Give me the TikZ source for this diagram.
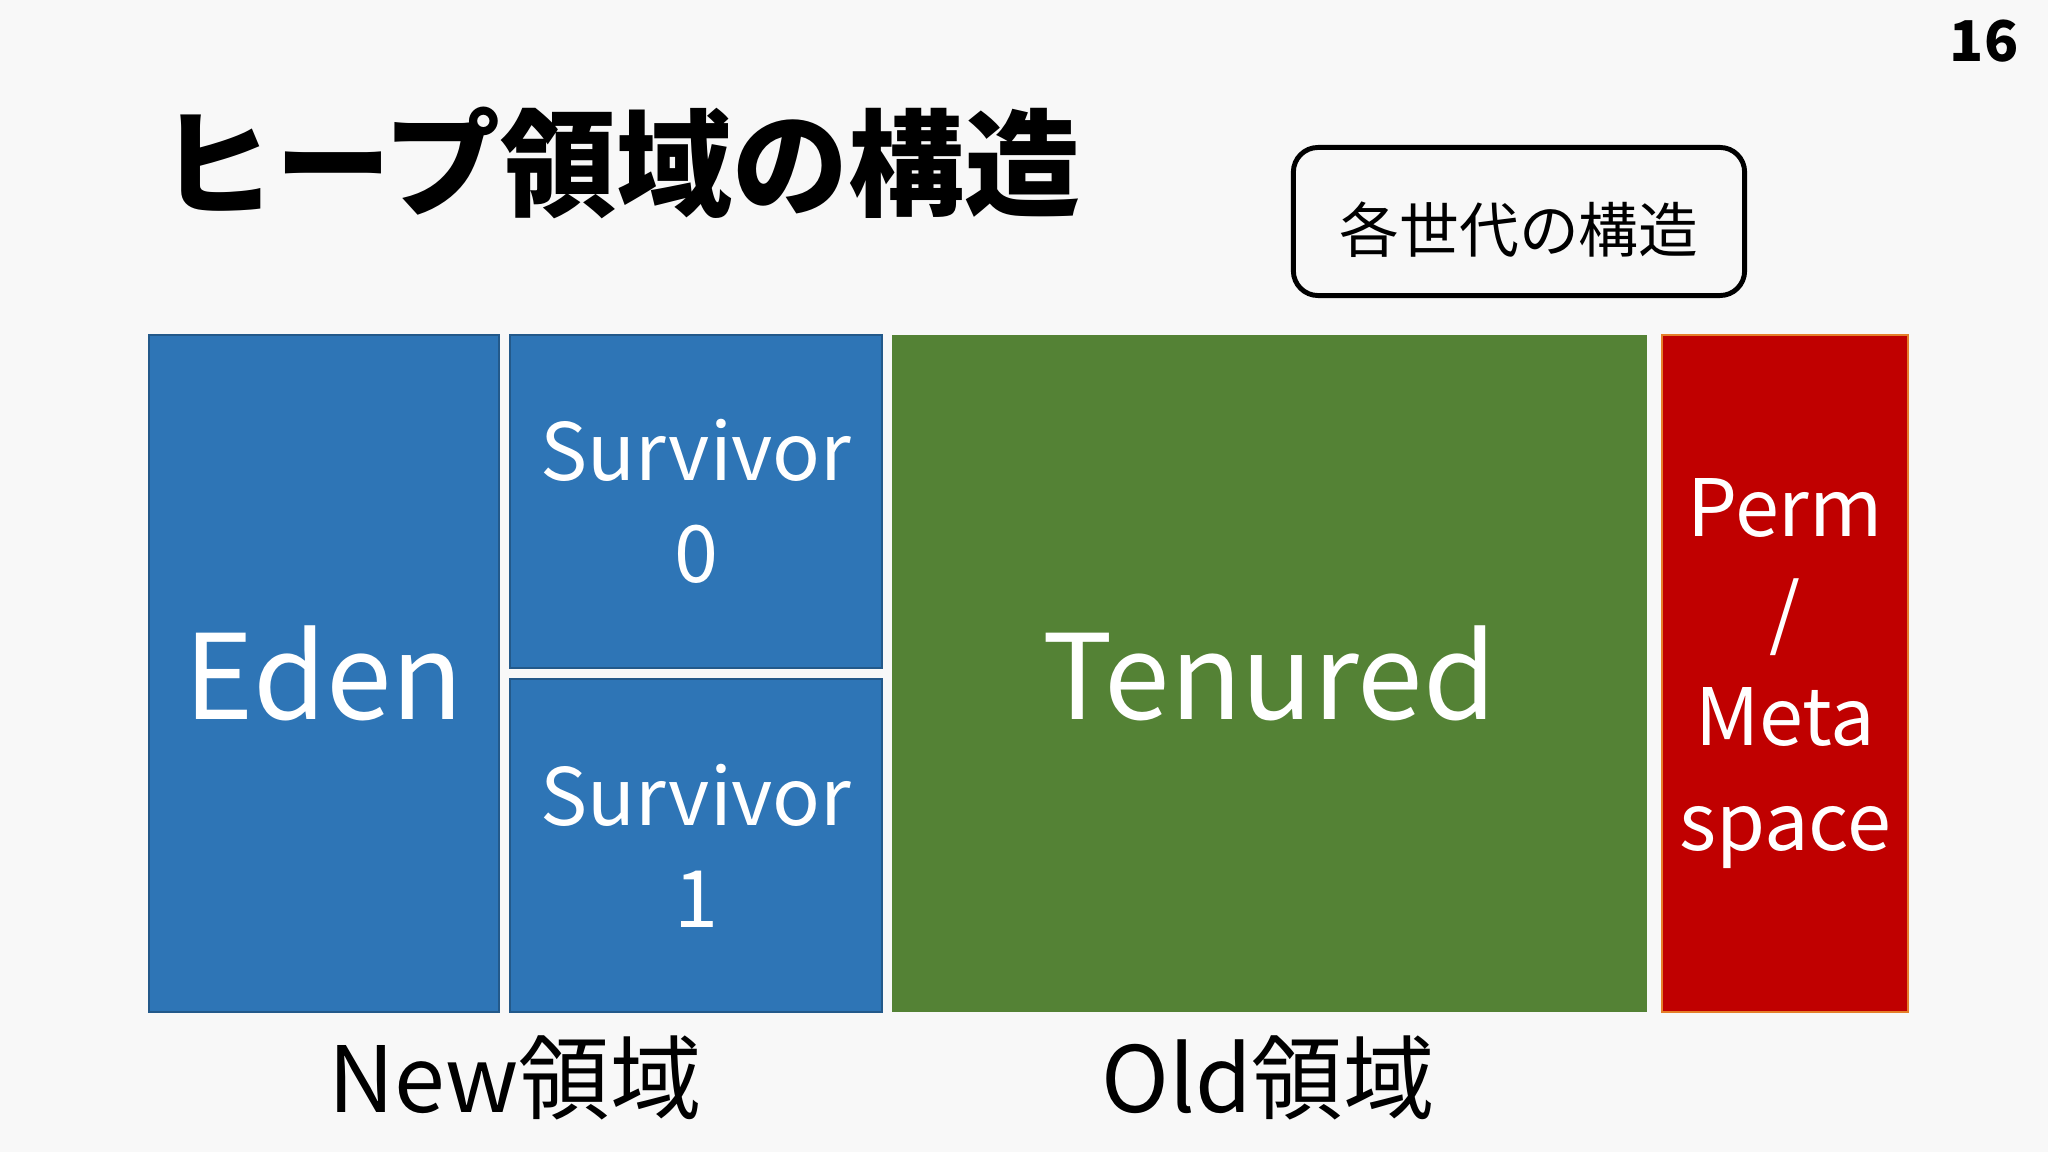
\documentclass[tikz,border=0pt]{standalone}
\usepackage{fontspec}
\setmainfont{Noto Sans CJK JP}
\usetikzlibrary{positioning}

\definecolor{slidebg}{HTML}{F8F8F8}
\definecolor{newblue}{HTML}{2E75B6}
\definecolor{newedge}{HTML}{23598A}
\definecolor{oldgreen}{HTML}{548235}
\definecolor{permred}{HTML}{C00000}
\definecolor{permedge}{HTML}{E57F2A}

\tikzset{
  area/.style={inner sep=0pt, outer sep=0pt, text=white, align=center},
  newarea/.style={area, draw=newedge, fill=newblue, line width=0.6pt},
  bigtext/.style={font=\fontsize{33.5}{36}\selectfont},
  midtext/.style={font=\fontsize{22.5}{29}\selectfont},
  genlabel/.style={font=\fontsize{26}{28}\selectfont, inner sep=0pt}
}

\begin{document}
\begin{tikzpicture}[x=0.01cm, y=-0.01cm]
  % slide background
  \fill[slidebg] (0,0) rectangle (2048,1152);
  \useasboundingbox (0,0) rectangle (2048,1152);

  % title and page number
  \node[font=\bfseries\fontsize{33}{35}\selectfont, inner sep=0pt] (title) at (620,163) {ヒープ領域の構造};
  \node[font=\bfseries\fontsize{16}{18}\selectfont, inner sep=0pt] (page) at (1984,41) {16};

  \node[draw, line width=1.4pt, rounded corners=7pt, minimum width=4.51cm, minimum height=1.48cm,
        font=\fontsize{17}{19}\selectfont] (gen) at (1519,221.5) {\raisebox{-0.08cm}[\height][\depth]{各世代の構造}};

  % heap areas
  \node[newarea, bigtext, minimum width=3.5cm, minimum height=6.77cm] (eden) at (324,673.5) {Eden};
  \node[newarea, midtext, minimum width=3.72cm, minimum height=3.33cm] (surv0) at (696,501.5) {Survivor\\0};
  \node[newarea, midtext, minimum width=3.72cm, minimum height=3.33cm] (surv1) at (696,845.5) {Survivor\\1};
  \node[area, bigtext, fill=oldgreen, minimum width=7.55cm, minimum height=6.77cm] (tenured) at (1269.5,673.5) {Tenured};
  \node[area, font=\fontsize{22.5}{29.7}\selectfont, draw=permedge, fill=permred, line width=0.6pt,
        minimum width=2.46cm, minimum height=6.77cm] (perm) at (1785,673.5) {Perm\\/\\Meta\\space};

  % generation labels
  \node[genlabel] (newgen) at (515,1078) {New領域};
  \node[genlabel] (oldgen) at (1268,1078) {Old領域};
\end{tikzpicture}
\end{document}
